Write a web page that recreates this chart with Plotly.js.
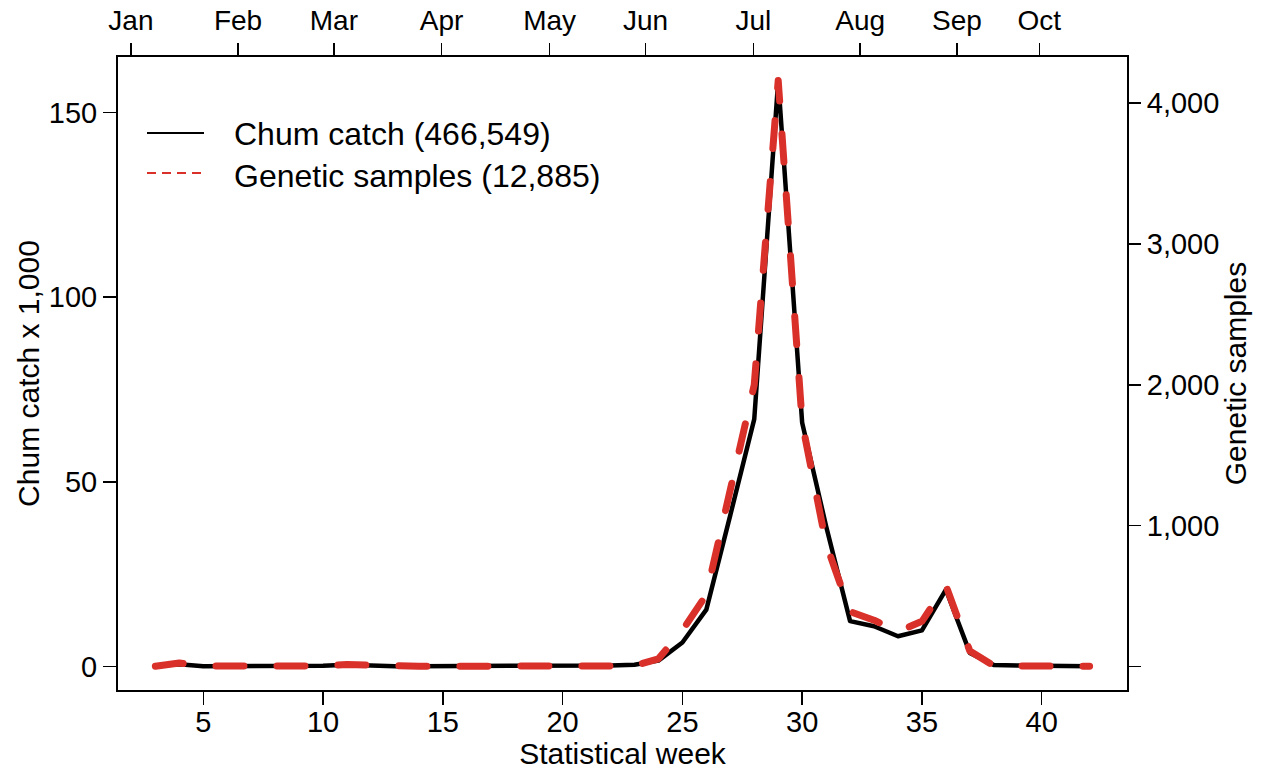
<!DOCTYPE html>
<html>
<head>
<meta charset="utf-8">
<script src="https://cdn.plot.ly/plotly-3.0.1.min.js"></script>
<style>html,body{margin:0;padding:0;background:#fff;}</style>
</head>
<body>
<div id="chart" style="width:1263px;height:770px;"></div>
<script>
// ---- data ----
var weeks = [3,4,5,6,7,8,9,10,11,12,13,14,15,16,17,18,19,20,21,22,23,24,25,26,27,28,29,30,31,32,33,34,35,36,37,38,39,40,41,42];
var chumCatchThousands = [0.2,0.6,0.1,0.1,0.2,0.4,0.3,0.2,0.5,0.2,0.1,0.1,0.1,0.1,0.1,0.1,0.1,0.2,0.3,0.3,0.5,1.6,6.5,15.4,41,67,158.7,66,38,12.3,10.9,8.2,9.8,20.8,3.7,0.4,0.3,0.2,0.2,0.1];
var geneticSamples = [2,25,3,2,3,8,8,5,15,8,3,2,2,2,2,2,2,3,4,4,5,55,257,510,1253,2000,4160,1730,870,390,329,248,321,575,110,5,4,3,3,2];
var weekTicks = [5,10,15,20,25,30,35,40];
var monthTickWeeks = [1.98,6.45,10.45,14.95,19.46,23.46,27.96,32.42,36.46,39.9];
var monthLabels = ['Jan','Feb','Mar','Apr','May','Jun','Jul','Aug','Sep','Oct'];
var leftTicks = [0,50,100,150];
var rightTicks = [0,1000,2000,3000,4000];
var rightTickText = ['','1,000','2,000','3,000','4,000'];
var seriesNames = ['Chum catch (466,549)','Genetic samples (12,885)'];

var FONT = 'Liberation Sans, Arial, sans-serif';
var RED = '#d9302a';

var traces = [
  {x: weeks, y: chumCatchThousands, type:'scatter', mode:'lines', name: seriesNames[0],
   xaxis:'x', yaxis:'y', line:{color:'#000', width:4.5}, hoverinfo:'x+y'},
  {x: weeks, y: geneticSamples, type:'scatter', mode:'lines', name: seriesNames[1],
   xaxis:'x', yaxis:'y2', line:{color:RED, width:7, dash:'28px,33px'}, hoverinfo:'x+y'},
  // invisible helper so the month (top) axis is drawn
  {x: weeks, y: chumCatchThousands, type:'scatter', mode:'lines', name:'month axis',
   xaxis:'x2', yaxis:'y', line:{color:'rgba(0,0,0,0)', width:0}, hoverinfo:'skip', showlegend:false}
];

var xr = [1.44, 43.56];
var px = function(p){ return (p-118)/1009; };
var py = function(p){ return (690-p)/633; };

var layout = {
  width:1263, height:770,
  margin:{l:118, r:136, t:57, b:80, pad:0},
  paper_bgcolor:'#fff', plot_bgcolor:'#fff',
  showlegend:false,
  font:{family:FONT, color:'#000', size:29},
  xaxis:{range:xr, tickmode:'array', tickvals:weekTicks, ticks:'outside', ticklen:13, tickwidth:1.5, tickcolor:'#000',
         showline:true, linewidth:2, linecolor:'#000', mirror:true, showgrid:false, zeroline:false,
         tickfont:{size:29}, ticklabelstandoff:-8,
         title:{text:'Statistical week', font:{size:30}, standoff:0}},
  xaxis2:{range:xr, overlaying:'x', side:'top', anchor:'y', tickmode:'array', tickvals:monthTickWeeks, ticktext:monthLabels,
          ticks:'outside', ticklen:13, tickwidth:1.5, tickcolor:'#000', showline:false, showgrid:false, zeroline:false,
          tickfont:{size:28}, ticklabelstandoff:2},
  yaxis:{range:[-6.35,165.05], tickmode:'array', tickvals:leftTicks, ticks:'outside', ticklen:13, tickwidth:1.5, tickcolor:'#000',
         showline:true, linewidth:2, linecolor:'#000', mirror:true, showgrid:false, zeroline:false,
         tickfont:{size:29}, title:{text:'Chum catch x 1,000', font:{size:30}, standoff:0}},
  yaxis2:{range:[-166.4,4326.4], overlaying:'y', side:'right', anchor:'x', tickmode:'array', tickvals:rightTicks, ticktext:rightTickText,
          ticks:'outside', ticklen:13, tickwidth:1.5, tickcolor:'#000', showline:false, showgrid:false, zeroline:false,
          tickfont:{size:29}, title:{text:'Genetic samples', font:{size:30}, standoff:4}},
  shapes:[
    {type:'line', xref:'paper', yref:'paper', x0:px(147), x1:px(204), y0:py(133), y1:py(133), line:{color:'#000', width:2}},
    {type:'line', xref:'paper', yref:'paper', x0:px(147), x1:px(204), y0:py(173), y1:py(173), line:{color:RED, width:2, dash:'9px,6px'}}
  ],
  annotations:[
    {xref:'paper', yref:'paper', x:px(232), y:py(134), xanchor:'left', yanchor:'middle', text:seriesNames[0], showarrow:false, font:{size:32}},
    {xref:'paper', yref:'paper', x:px(232), y:py(176), xanchor:'left', yanchor:'middle', text:seriesNames[1], showarrow:false, font:{size:32}}
  ]
};

Plotly.newPlot('chart', traces, layout, {displayModeBar:false, staticPlot:true}).then(function(){
  document.querySelectorAll('.scatterlayer .js-line').forEach(function(p){
    p.style.strokeLinecap = 'round';
    p.style.strokeLinejoin = 'round';
  });
});
</script>
</body>
</html>
